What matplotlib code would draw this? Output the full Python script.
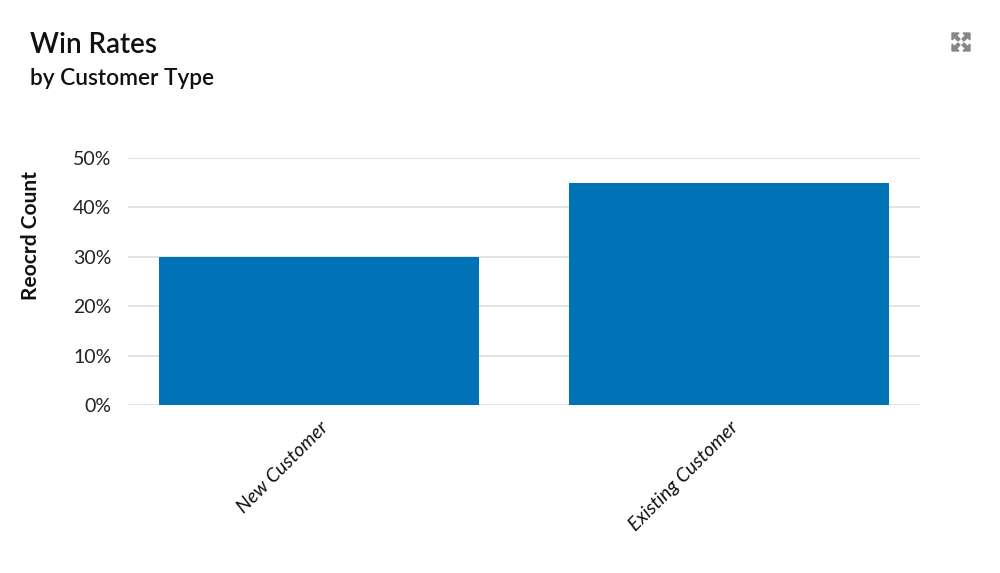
import matplotlib
matplotlib.use("Agg")
import matplotlib.pyplot as plt
from matplotlib.patches import Polygon
from matplotlib.ticker import FuncFormatter

categories = ["New Customer", "Existing Customer"]
win_rates = [30, 45]
y_ticks = [0, 10, 20, 30, 40, 50]

plt.rcParams['font.family'] = ['Lato', 'DejaVu Sans']

fig = plt.figure(figsize=(10, 5.73), dpi=100)
ax = fig.add_axes([0.128, 0.2932, 0.792, 0.4311])

x = list(range(len(categories)))
ax.bar(x, win_rates, width=0.78, color="#0073B7", zorder=3)
ax.set_xlim(-0.466, len(categories) - 1 + 0.466)
ax.set_ylim(0, 50)
ax.set_yticks(y_ticks)
ax.yaxis.set_major_formatter(FuncFormatter(lambda v, p: f"{int(v)}%"))
ax.grid(axis="y", color="#e0e0e0", linewidth=1.3, zorder=0)
for s in ax.spines.values():
    s.set_visible(False)
ax.tick_params(axis="y", length=0, labelsize=14, colors="#222222", pad=12)
ax.set_xticks(x)
ax.set_xticklabels(categories, rotation=45, ha="right", rotation_mode="anchor",
                   fontsize=14, style="italic", color="#111111")
ax.tick_params(axis="x", length=0, pad=10)
ax.set_ylabel("Reocrd Count", fontsize=15, fontweight="bold", color="#111111")
ax.yaxis.set_label_coords(-0.110, 0.685)

fig.text(0.030, 0.921, "Win Rates", fontsize=20, fontweight="semibold", color="#111111", va="center", ha="left")
fig.text(0.030, 0.863, "by Customer Type", fontsize=16.3, fontweight="semibold", color="#111111", va="center", ha="left")

# expand icon (decoration)
W, H = 1000, 573
def pt(px, py):
    return (px / W, 1 - py / H)
gray = "#888888"
cx, cy = 961, 42
for sx in (-1, 1):
    for sy in (-1, 1):
        ox, oy = cx + sx * 9, cy + sy * 9
        tri = [pt(ox, oy), pt(ox - sx * 7, oy), pt(ox, oy - sy * 7)]
        fig.patches.append(Polygon(tri, closed=True, transform=fig.transFigure, color=gray))
        tri2 = [pt(ox - sx * 3, oy - sy * 1), pt(ox - sx * 8, oy - sy * 6), pt(ox - sx * 6, oy - sy * 8), pt(ox - sx * 1, oy - sy * 3)]
        fig.patches.append(Polygon(tri2, closed=True, transform=fig.transFigure, color=gray))

fig.savefig("out.png", dpi=100, facecolor="white")
